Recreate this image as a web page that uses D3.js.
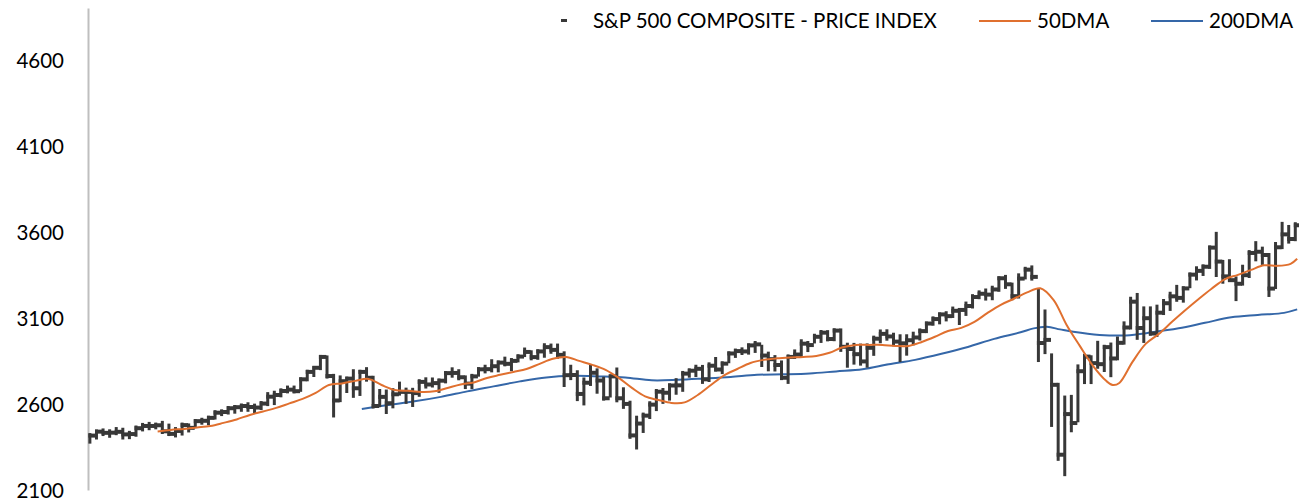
<!DOCTYPE html>
<html>
<head>
<meta charset="utf-8">
<script src="https://cdn.jsdelivr.net/npm/d3@7"></script>
<style>
  body { margin: 0; background: #fff; }
  text { font-family: Lato, "Open Sans", sans-serif; font-size: 20.5px; fill: #000; }
</style>
</head>
<body>
<svg id="chart" width="1299" height="503"></svg>
<script>
// weekly bars (week ending Friday), 26 May 2017 .. 27 Nov 2020
const closes = [
  2416,2439,2432,2433,2438,2423,2425,2459,2472,2472,2476,2441,2426,2443,2477,2461,2500,2502,2519,2549,2553,2575,2581,2588,2582,2579,2602,2642,2652,2675,2683,2674,
  2743,2786,2810,2873, 2762,2620,2732,2747, 2691,2786,2752,2588,2641, 2604,2656,2670,2670, 2663,2728,2713,2721, 2735,2779,2780,2755,2718, 2760,2801,2802,2819, 2840,2833,2850,2875,2902, 2872,2905,2930,2914, 2885,2767,2768,2658, 2723,2781,2736,2633,2760, 2633,2600,2417,2486,
  2532,2596,2671,2665, 2707,2708,2776,2793, 2804,2743,2822,2800,2834, 2893,2907,2905,2940, 2946,2881,2860,2826,2752, 2873,2887,2950,2942, 2990,3014,2977,3026, 2932,2919,2889,2847,2926, 2979,3007,2992,2962, 2952,2970,2986,3023, 3067,3093,3120,3110,3141, 3146,3169,3221,3240,
  3235,3265,3330,3295,3226, 3328,3380,3338,2954, 2972,2711,2305,2541, 2489,2790,2875,2837, 2831,2930,2864,2955,3044, 3194,3041,3098,3009, 3130,3185,3225,3216,3271, 3351,3373,3397,3508, 3427,3341,3319,3298, 3348,3477,3484,3465,3270, 3510,3585,3558,3638
];
const highs = [
  2419,2440,2446,2441,2454,2450,2432,2463,2478,2484,2480,2490,2474,2454,2480,2475,2500,2508,2520,2552,2557,2576,2582,2591,2598,2590,2605,2657,2665,2679,2695,2695,
  2743,2787,2808,2873, 2870,2763,2754,2747, 2790,2787,2802,2752,2675, 2672,2680,2718,2683, 2682,2732,2743,2742, 2736,2779,2801,2790,2754, 2763,2802,2816,2848, 2841,2863,2855,2877,2916, 2900,2906,2941,2939, 2939,2894,2816,2784, 2742,2815,2795,2746,2760, 2800,2685,2607,2520,
  2538,2604,2675,2681, 2708,2738,2780,2795, 2816,2815,2830,2861,2836, 2894,2910,2917,2940, 2954,2932,2892,2872,2841, 2876,2905,2964,2954, 2996,3018,3017,3028, 3027,2944,2943,2939,2940, 2985,3021,3022,3002, 2993,2993,3008,3027, 3067,3097,3120,3127,3154, 3144,3183,3226,3248,
  3259,3275,3330,3338,3293, 3347,3385,3393,3259, 3137,2882,2711,2637, 2641,2818,2880,2871, 2955,2932,2945,2980,3068, 3211,3233,3155,3155, 3165,3198,3240,3280,3272, 3352,3388,3399,3509, 3588,3425,3429,3329, 3397,3482,3534,3502,3465, 3529,3646,3628,3644
];
const lows = [
  2381,2405,2425,2415,2430,2405,2407,2421,2452,2459,2464,2437,2425,2417,2428,2446,2474,2491,2488,2521,2541,2550,2555,2566,2566,2557,2576,2599,2605,2650,2673,2673,
  2682,2743,2768,2808, 2759,2533,2622,2675, 2647,2658,2741,2585,2593, 2553,2586,2660,2612, 2594,2653,2701,2707, 2676,2731,2764,2749,2698, 2698,2770,2789,2795, 2795,2830,2802,2853,2884, 2865,2868,2880,2903, 2874,2710,2750,2628, 2603,2716,2671,2631,2649, 2621,2583,2409,2347,
  2443,2524,2570,2612, 2631,2665,2682,2764, 2768,2728,2739,2800,2785, 2848,2879,2896,2898, 2908,2826,2801,2800,2750, 2728,2873,2883,2913, 2963,2966,2975,2976, 2914,2822,2840,2834,2822, 2891,2964,2979,2946, 2855,2892,2952,2980, 3023,3066,3074,3091,3111, 3070,3123,3166,3220,
  3212,3214,3263,3280,3214, 3224,3335,3328,2855, 2901,2478,2281,2192, 2447,2505,2727,2727, 2816,2797,2767,2865,2956, 3044,2984,2966,3008, 3001,3128,3152,3205,3200, 3284,3329,3355,3396, 3349,3310,3323,3209, 3299,3343,3440,3419,3233, 3279,3511,3543,3557
];

// moving averages: [date, value]
const ma50 = [
  ["2017-08-04",2440],["2017-08-18",2449],["2017-09-01",2455],["2017-09-15",2463],["2017-09-29",2472],["2017-10-13",2490],
  ["2017-10-27",2510],["2017-11-10",2536],["2017-11-24",2556],["2017-12-08",2577],["2017-12-22",2603],["2018-01-05",2629],
  ["2018-01-19",2664],["2018-02-02",2710],["2018-02-16",2719],["2018-03-02",2734],["2018-03-16",2745],["2018-03-30",2710],
  ["2018-04-13",2681],["2018-04-27",2676],["2018-05-11",2670],["2018-05-25",2673],["2018-06-08",2693],["2018-06-22",2713],
  ["2018-07-06",2725],["2018-07-20",2751],["2018-08-03",2769],["2018-08-17",2786],["2018-08-31",2803],["2018-09-14",2833],
  ["2018-09-28",2862],["2018-10-12",2873],["2018-10-26",2850],["2018-11-09",2827],["2018-11-23",2798],["2018-12-07",2751],
  ["2018-12-21",2693],["2019-01-04",2644],["2019-01-18",2623],["2019-02-01",2606],["2019-02-15",2609],["2019-03-01",2652],
  ["2019-03-15",2710],["2019-03-29",2766],["2019-04-12",2803],["2019-04-26",2838],["2019-05-10",2856],["2019-05-24",2865],
  ["2019-06-07",2870],["2019-06-21",2873],["2019-07-05",2879],["2019-07-19",2897],["2019-08-02",2929],["2019-08-16",2943],
  ["2019-08-30",2943],["2019-09-13",2943],["2019-09-27",2937],["2019-10-11",2937],["2019-10-25",2960],["2019-11-08",2990],
  ["2019-11-22",3024],["2019-12-06",3042],["2019-12-20",3077],["2020-01-03",3129],["2020-01-17",3176],["2020-01-31",3211],
  ["2020-02-14",3248],["2020-02-28",3272],["2020-03-13",3205],["2020-03-27",3059],["2020-04-10",2937],["2020-04-24",2821],
  ["2020-05-08",2734],["2020-05-15",2710],["2020-05-22",2722],["2020-06-05",2844],["2020-06-19",2949],["2020-07-03",3007],
  ["2020-07-17",3077],["2020-07-31",3144],["2020-08-14",3208],["2020-08-28",3269],["2020-09-11",3324],["2020-09-25",3350],
  ["2020-10-09",3379],["2020-10-23",3405],["2020-11-06",3402],["2020-11-20",3414],["2020-11-27",3443]
];
const ma200 = [
  ["2018-03-09",2571],["2018-04-06",2594],["2018-05-04",2615],["2018-06-01",2641],["2018-06-29",2673],["2018-07-27",2702],
  ["2018-08-24",2731],["2018-09-21",2754],["2018-10-19",2763],["2018-11-16",2760],["2018-12-14",2754],["2019-01-11",2737],
  ["2019-02-08",2740],["2019-03-08",2748],["2019-04-05",2757],["2019-05-03",2769],["2019-05-31",2772],["2019-06-28",2777],
  ["2019-07-26",2789],["2019-08-23",2801],["2019-09-20",2830],["2019-10-18",2856],["2019-11-15",2891],["2019-12-13",2931],
  ["2020-01-10",2978],["2020-02-07",3016],["2020-02-21",3039],["2020-03-06",3048],["2020-03-20",3033],["2020-04-03",3019],
  ["2020-05-01",3001],["2020-05-29",2998],["2020-06-26",3016],["2020-07-24",3039],["2020-08-21",3071],["2020-09-18",3103],
  ["2020-10-16",3117],["2020-11-13",3129],["2020-11-27",3149]
];

const yTicks = [2100, 2600, 3100, 3600, 4100, 4600];
const seriesNames = ["S&P 500 COMPOSITE - PRICE INDEX", "50DMA", "200DMA"];
const colors = { price: "#383838", ma50: "#e0702f", ma200: "#3567a8" };

const svg = d3.select("#chart");
const parse = d3.timeParse("%Y-%m-%d");

const fridays = d3.timeFriday.range(new Date(2017, 4, 26), new Date(2020, 10, 28));
const bars = fridays.map((d, i) => ({
  date: d3.timeDay.offset(d, -2),
  high: highs[i], low: lows[i], close: closes[i]
}));

const x = d3.scaleTime()
  .domain([new Date(2017, 4, 22), new Date(2020, 10, 30)])
  .range([88, 1300]);
const y = d3.scaleLinear()
  .domain([2100, 4900])
  .range([490, 8]);

// y axis
const yAxis = d3.axisLeft(y).tickValues(yTicks).tickSize(0).tickPadding(24).tickFormat(d3.format("d"));
const yg = svg.append("g").attr("transform", "translate(88,0)").call(yAxis);
yg.select(".domain").attr("stroke", "#bfbfbf").attr("stroke-width", 2);
yg.selectAll("text").attr("dy", "0.36em").style("font-family", "Lato, sans-serif").style("font-size", "20.5px").attr("fill", "#000");

// moving averages
const line = d3.line()
  .x(d => x(parse(d[0])))
  .y(d => y(d[1]))
  .curve(d3.curveCatmullRom);

svg.append("path").datum(ma200)
  .attr("fill", "none").attr("stroke", colors.ma200).attr("stroke-width", 2)
  .attr("d", line);

// price bars: high-low line plus close tick
const pg = svg.append("g");
pg.selectAll("line.hl")
  .data(bars)
  .join("line")
  .attr("class", "hl")
  .attr("x1", d => x(d.date)).attr("x2", d => x(d.date))
  .attr("y1", d => y(d.high) - 2).attr("y2", d => y(d.low) + 2)
  .attr("stroke", colors.price).attr("stroke-width", 3);
pg.selectAll("line.cl")
  .data(bars)
  .join("line")
  .attr("class", "cl")
  .attr("x1", d => x(d.date) - 1.5).attr("x2", d => x(d.date) + 6)
  .attr("y1", d => y(d.close)).attr("y2", d => y(d.close))
  .attr("stroke", colors.price).attr("stroke-width", 4);

svg.append("path").datum(ma50)
  .attr("fill", "none").attr("stroke", colors.ma50).attr("stroke-width", 2)
  .attr("d", line);

// legend
const lg = svg.append("g");
lg.append("rect").attr("x", 561).attr("y", 19).attr("width", 6).attr("height", 3).attr("fill", colors.price);
lg.append("text").attr("x", 593).attr("y", 28).text(seriesNames[0]);
lg.append("line").attr("x1", 979).attr("x2", 1031).attr("y1", 21).attr("y2", 21)
  .attr("stroke", colors.ma50).attr("stroke-width", 2);
lg.append("text").attr("x", 1037).attr("y", 28).text(seriesNames[1]);
lg.append("line").attr("x1", 1151).attr("x2", 1203).attr("y1", 21).attr("y2", 21)
  .attr("stroke", colors.ma200).attr("stroke-width", 2);
lg.append("text").attr("x", 1209).attr("y", 28).text(seriesNames[2]);
</script>
</body>
</html>
